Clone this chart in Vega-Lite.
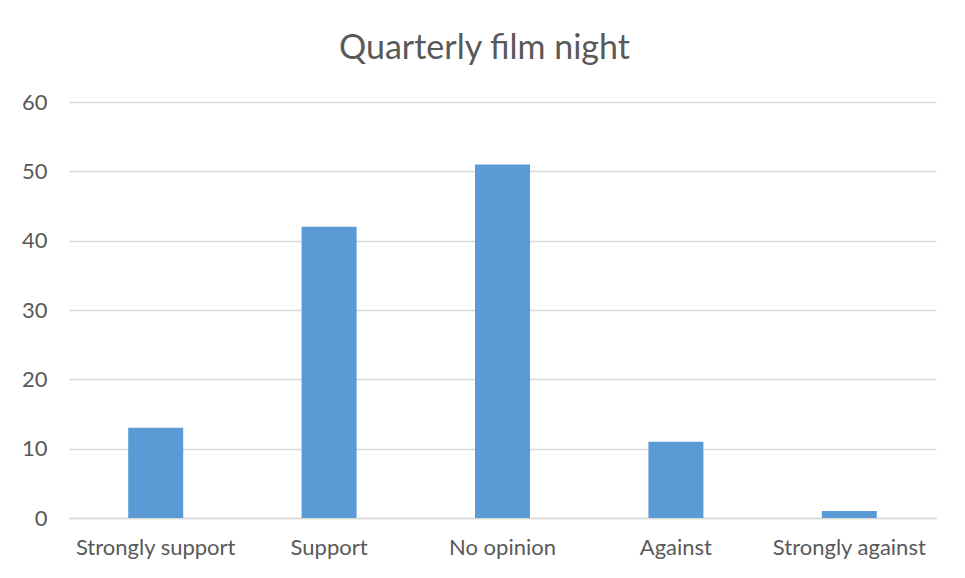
{
  "$schema": "https://vega.github.io/schema/vega-lite/v6.json",
  "width": 867,
  "height": 416,
  "autosize": {"type": "none"},
  "padding": {"left": 69, "top": 102, "right": 29, "bottom": 60},
  "background": "white",
  "title": {
    "text": "Quarterly film night",
    "font": "Lato",
    "fontSize": 34,
    "fontWeight": "normal",
    "color": "#595959",
    "anchor": "middle",
    "dx": -18,
    "offset": 25
  },
  "data": {
    "values": [
      {"response": "Strongly support", "count": 13},
      {"response": "Support", "count": 42},
      {"response": "No opinion", "count": 51},
      {"response": "Against", "count": 11},
      {"response": "Strongly against", "count": 1}
    ]
  },
  "mark": {"type": "bar", "color": "#5B9BD5", "width": 55},
  "encoding": {
    "x": {
      "field": "response",
      "type": "nominal",
      "sort": null,
      "scale": {"paddingInner": 0, "paddingOuter": 0},
      "axis": {
        "title": null,
        "labelAngle": 0,
        "labelFont": "Lato",
        "labelFontSize": 22,
        "labelColor": "#595959",
        "labelPadding": 19,
        "ticks": false,
        "domainColor": "#d9d9d9",
        "domainWidth": 1.5,
        "grid": false
      }
    },
    "y": {
      "field": "count",
      "type": "quantitative",
      "scale": {"domain": [0, 60]},
      "axis": {
        "title": null,
        "values": [0, 10, 20, 30, 40, 50, 60],
        "labelFont": "Lato",
        "labelFontSize": 22,
        "labelColor": "#595959",
        "labelPadding": 22,
        "ticks": false,
        "domain": false,
        "gridColor": "#d9d9d9",
        "gridWidth": 1.5
      }
    }
  },
  "config": {"view": {"stroke": null}}
}
